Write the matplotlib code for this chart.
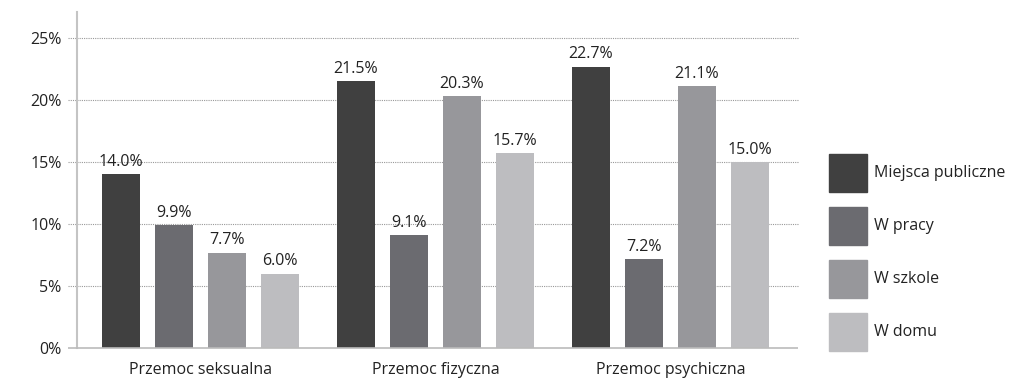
import matplotlib.pyplot as plt
import matplotlib.patches as mpatches
import numpy as np

categories = ["Przemoc seksualna", "Przemoc fizyczna", "Przemoc psychiczna"]
series_names = ["Miejsca publiczne", "W pracy", "W szkole", "W domu"]
miejsca_publiczne = [14.0, 21.5, 22.7]
w_pracy = [9.9, 9.1, 7.2]
w_szkole = [7.7, 20.3, 21.1]
w_domu = [6.0, 15.7, 15.0]
yticks = [0, 5, 10, 15, 20, 25]

series = [miejsca_publiczne, w_pracy, w_szkole, w_domu]
colors = ["#404040", "#6b6b70", "#97979b", "#bdbdc0"]
text_color = "#222222"
fs = 11.5

plt.rcParams['font.family'] = ['Open Sans', 'DejaVu Sans']

fig = plt.figure(figsize=(10.1, 3.8), dpi=100)
ax = fig.add_axes([0.0762, 0.0842, 0.714, 0.884])

x = np.arange(len(categories))
step = 0.2255
width = 0.1617
for i, (vals, col) in enumerate(zip(series, colors)):
    pos = x + (i - 1.5) * step
    bars = ax.bar(pos, vals, width=width, color=col, label=series_names[i], zorder=3)
    for b, v in zip(bars, vals):
        ax.annotate(f"{v:.1f}%", (b.get_x() + b.get_width() / 2, v),
                    xytext=(0, 3), textcoords="offset points",
                    ha="center", va="bottom", fontsize=fs, color=text_color)

ax.set_xlim(-0.526, 2.543)
ax.set_ylim(0, 27.1)

# dotted grid lines, reaching slightly left of the axis
ax.hlines(yticks[1:], -0.012, 1, transform=ax.get_yaxis_transform(),
          colors="#999999", linestyles=(0, (1, 1)), linewidth=0.8, clip_on=False, zorder=1)
ax.hlines([0], -0.012, 1, transform=ax.get_yaxis_transform(),
          colors="#bbbbbb", linewidth=1.2, clip_on=False, zorder=4)

for s in ["top", "right", "bottom"]:
    ax.spines[s].set_visible(False)
ax.spines["left"].set_color("#c4c4c4")
ax.spines["left"].set_linewidth(1.5)

ax.set_yticks(yticks)
ax.set_yticklabels([f"{t}%" for t in yticks])
ax.set_xticks(x)
ax.set_xticklabels(categories)
ax.tick_params(axis="both", length=0, labelsize=fs, colors=text_color)
ax.tick_params(axis="y", pad=11)
ax.tick_params(axis="x", pad=10)

handles = [mpatches.Patch(color=c) for c in colors]
fig.legend(handles, series_names, loc="upper left", bbox_to_anchor=(0.821, 0.595),
           frameon=False, fontsize=fs, handlelength=2.375, handleheight=3.277,
           labelspacing=0.94, handletextpad=0.44, borderaxespad=0, borderpad=0,
           labelcolor=text_color)

fig.savefig("out.png", dpi=100)
